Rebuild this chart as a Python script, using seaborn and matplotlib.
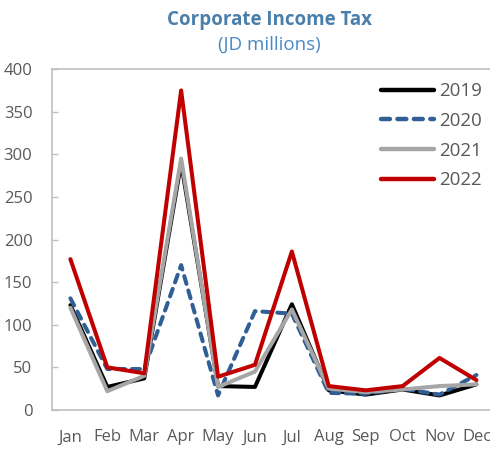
import pandas as pd
import seaborn as sns
import matplotlib.pyplot as plt

# valeurs (JD millions)
months = ['Jan', 'Feb', 'Mar', 'Apr', 'May', 'Jun', 'Jul', 'Aug', 'Sep', 'Oct', 'Nov', 'Dec']
y2019 = [123, 27, 37, 290, 28, 27, 124, 23, 18, 24, 17, 30]
y2020 = [131, 48, 48, 170, 17, 116, 113, 20, 19, 25, 18, 41]
y2021 = [120, 22, 40, 295, 27, 45, 118, 25, 21, 24, 28, 30]
y2022 = [177, 50, 43, 375, 39, 53, 186, 28, 23, 28, 61, 35]
years = ['2019', '2020', '2021', '2022']

df = pd.DataFrame({
    'month': months * 4,
    'pos': list(range(12)) * 4,
    'value': y2019 + y2020 + y2021 + y2022,
    'year': [y for y in years for _ in months],
})

sns.set_style('white')
plt.rcParams['font.family'] = ['Open Sans', 'DejaVu Sans']

fig = plt.figure(figsize=(4.9, 4.49), dpi=100)
ax = fig.add_axes([0.106, 0.087, 0.904, 0.759])

palette = {'2019': '#000000', '2020': '#2f5f94', '2021': '#a6a6a6', '2022': '#c00000'}
dashes = {'2019': '', '2020': (2.0, 1.7), '2021': '', '2022': ''}
sns.lineplot(data=df, x='pos', y='value', hue='year', style='year',
             palette=palette, dashes=dashes, linewidth=2.9, ax=ax)
for line in ax.get_lines():
    line.set_dash_capstyle('round')

ax.set_xlim(-0.5, 11.5)
ax.set_ylim(0, 400)
ax.set_yticks(range(0, 401, 50))
ax.set_xticks(range(12))
ax.set_xticklabels(months)
ax.set_xticks([i + 0.5 for i in range(11)], minor=True)
ax.set_xlabel('')
ax.set_ylabel('')

for s in ['left', 'bottom', 'top']:
    ax.spines[s].set_color('#bfbfbf')
    ax.spines[s].set_linewidth(1.2)
ax.spines['right'].set_visible(False)

ax.tick_params(axis='x', which='major', length=0, pad=14, labelsize=12, labelcolor='#595959')
ax.tick_params(axis='x', which='minor', direction='in', length=4, color='#bfbfbf', width=1)
ax.tick_params(axis='y', direction='in', length=4, color='#bfbfbf', width=1,
               left=True, pad=14, labelsize=12, labelcolor='#595959')

leg = ax.legend(loc='upper left', bbox_to_anchor=(0.744, 0.854), bbox_transform=fig.transFigure,
                frameon=False, fontsize=13.5, handlelength=2.8, handletextpad=0.3,
                labelspacing=0.62, labelcolor='#595959')
for h in leg.get_lines():
    h.set_linewidth(3.2)

fig.text(0.549, 0.955, 'Corporate Income Tax', ha='center', va='center',
         fontsize=13.5, fontweight='bold', color='#4a7eab')
fig.text(0.549, 0.9, '(JD millions)', ha='center', va='center',
         fontsize=13.5, color='#4a8ac6')

plt.savefig('out.png', dpi=100)
